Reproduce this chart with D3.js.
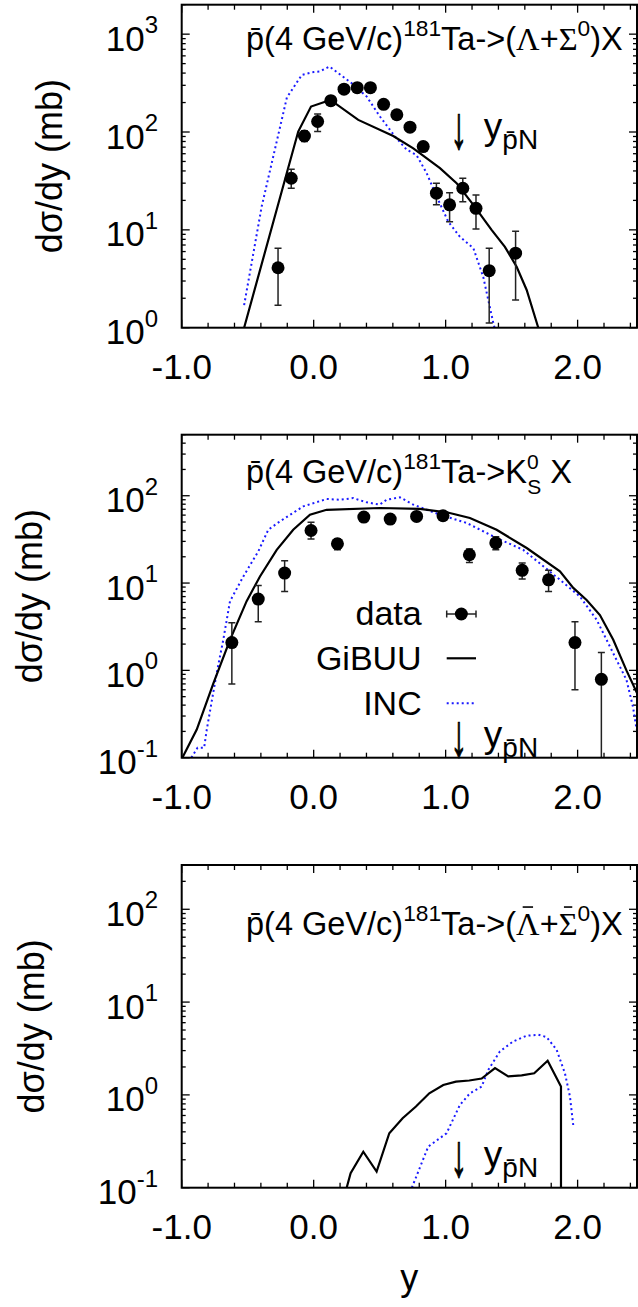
<!DOCTYPE html>
<html><head><meta charset="utf-8">
<script src="https://cdn.jsdelivr.net/npm/d3@7"></script>
<style>
html,body{margin:0;padding:0;background:#fff;}
text{font-family:"Liberation Sans", Arial, Helvetica, sans-serif; fill:#000;}
</style></head><body>
<svg id="c" width="638" height="1307"></svg>
<script>
// ---------- shared axis data ----------
const xDomain = [-1.0, 2.45];
const xMajorTicks = [-1, 0, 1, 2];
const xTickLabels = ["-1.0", "0.0", "1.0", "2.0"];
const yPN = 1.1;   // position of the y_{pbar N} arrow
const yTitle = "dσ/dy (mb)";
const xTitle = "y";

// ---------- panel 1: (Lambda + Sigma0) ----------
const lamDataY  = [-0.27,-0.17,-0.07,0.03,0.13,0.23,0.33,0.43,0.53,0.63,0.73,0.83,0.93,1.03,1.13,1.23,1.33,1.53];
const lamDataV  = [4.1,33.7,91,128,209,274,284,284,192,150,112,71,23.7,18,26.6,16.6,3.83,5.77];
const lamDataHi = [6.5,41.7,103,153,230,300,310,310,210,165,123,78,30,24,33.7,22.7,6.5,9.7];
const lamDataLo = [1.7,26.6,80,101,190,250,260,260,175,137,102,65,18,12.1,19.4,10.2,1.12,1.92];
const lamGibuuY = [-0.527,-0.117,-0.02,0.127,0.338,0.603,0.755,0.957,1.083,1.21,1.348,1.449,1.538,1.614,1.702];
const lamGibuuV = [1.0,101,182,213,133,91,68,42.7,30,18,10,6.7,4.2,2.43,1.0];
const lamIncY   = [-0.527,-0.394,-0.203,-0.09,0.0,0.044,0.12,0.288,0.402,0.502,0.616,0.705,0.78,0.856,0.932,1.02,1.108,1.21,1.285,1.361,1.375];
const lamIncV   = [1.7,17.3,225,383,410,415,467,315,230,144,90,66,58,38,21.9,12.1,8.5,6.5,3.3,1.12,0.95];

// ---------- panel 2: K0s ----------
const kDataY  = [-0.62,-0.42,-0.22,-0.02,0.18,0.38,0.58,0.78,0.98,1.18,1.38,1.58,1.78,1.98,2.18];
const kDataV  = [2.08,6.55,13,40,28.2,57,54,58,59,21.1,28.8,14,10.9,2.08,0.79];
const kDataHi = [3.5,9.4,18,49.6,32,62,59,63,64,24.5,34,17,14,3.6,1.6];
const kDataLo = [0.70,3.6,8.0,32,24,52,49,53,54,17.2,24,11.1,8.0,0.60,0.1];
const kGibuuY = [-0.995,-0.886,-0.76,-0.634,-0.508,-0.407,-0.28,-0.155,-0.028,0.098,0.502,0.805,1.008,1.184,1.386,1.614,1.866,1.967,2.068,2.169,2.27,2.37,2.45];
const kGibuuV = [0.1,0.21,0.71,2.24,6.2,11.9,24,40.8,60.7,69,72.4,70.6,64.6,55.6,40.8,25.2,13.6,8.8,6.4,4.3,2.24,1.0,0.55];
const kIncY   = [-0.927,-0.88,-0.83,-0.81,-0.735,-0.685,-0.634,-0.533,-0.42,-0.344,-0.255,-0.079,0.098,0.2,0.3,0.402,0.5,0.553,0.654,0.755,0.957,1.159,1.386,1.588,1.866,2.018,2.144,2.27,2.37,2.42,2.447];
const kIncV   = [0.1,0.13,0.13,0.21,0.93,2.24,6.2,11.9,23,40.8,51,75.5,91.8,90,94,84,79,90,96,79,60.7,48.8,32.8,24,10.9,7.0,3.8,1.57,0.78,0.38,0.21];

// ---------- panel 3: (anti-Lambda + anti-Sigma0) ----------
const alamGibuuY = [0.25,0.28,0.376,0.477,0.573,0.674,0.775,0.876,0.982,1.078,1.179,1.273,1.374,1.474,1.576,1.671,1.773,1.874,1.874];
const alamGibuuV = [0.1,0.143,0.244,0.149,0.386,0.56,0.75,1.04,1.28,1.39,1.43,1.5,1.94,1.58,1.62,1.71,2.33,1.23,0.1];
const alamIncY   = [0.744,0.868,1.007,1.108,1.184,1.273,1.323,1.411,1.512,1.614,1.702,1.765,1.841,1.904,1.942,1.967];
const alamIncV   = [0.1,0.277,0.386,0.78,1.04,1.23,1.86,2.94,3.77,4.34,4.45,4.2,3.06,1.71,0.96,0.47];

// legend
const legendLabels = ["data", "GiBUU", "INC"];

// ---------- drawing ----------
const svg = d3.select("#c");
svg.append("rect").attr("width", 638).attr("height", 1307).attr("fill", "#fff");
const x = d3.scaleLinear().domain(xDomain).range([181.7, 637]);
const INC_COLOR = "#1a1aff";
const SERIF = "'Liberation Serif','Times New Roman',serif";

function zip(a, b) { return a.map((v, i) => [v, b[i]]); }

function richText(parent, x0, y0, size, segs, anchor) {
  const t = parent.append("text").attr("x", x0).attr("y", y0).attr("font-size", size);
  if (anchor) t.attr("text-anchor", anchor);
  let cur = 0, offset = 0;
  const small = size * 0.7;
  const bars = [];
  segs.forEach(s => {
    const seg = typeof s === "string" ? { t: s } : s;
    const shift = seg.sup ? -size * 0.42 : seg.sub ? size * (seg.subShift || 0.28) : 0;
    const ts = t.append("tspan").text(seg.t).attr("dy", shift - cur);
    if (seg.dx) ts.attr("dx", seg.dx * small);
    cur = shift;
    if (seg.sup || seg.sub) ts.attr("font-size", seg.size ? seg.size : small);
    if (seg.serif) ts.attr("font-family", SERIF);
    if (seg.bar) bars.push(offset);
    offset += seg.t.length;
  });
  bars.forEach(idx => {
    const ext = t.node().getExtentOfChar(idx);
    const cx = ext.x + ext.width / 2;
    const by = y0 - size * 0.86;
    parent.append("line").attr("x1", cx - ext.width * 0.22).attr("x2", cx + ext.width * 0.22)
      .attr("y1", by).attr("y2", by).attr("stroke", "#000").attr("stroke-width", 1.6);
  });
  return t;
}

function panel(cfg) {
  const y = d3.scaleLog().domain(cfg.yDomain).range([cfg.bottom, cfg.top]);
  const [L, R] = x.range();
  const T = cfg.top, B = cfg.bottom;
  const g = svg.append("g");
  const clipId = "clip" + cfg.id;
  svg.append("clipPath").attr("id", clipId).append("rect")
    .attr("x", L).attr("y", T).attr("width", R - L).attr("height", B - T);

  // x ticks (every 0.2, major at integers)
  const xt = d3.range(0, 18).map(i => -1 + 0.2 * i);
  xt.forEach(v => {
    const major = Math.abs(v - Math.round(v)) < 1e-6;
    const len = major ? 8 : 5;
    const px = x(v);
    g.append("line").attr("x1", px).attr("x2", px).attr("y1", B).attr("y2", B - len).attr("stroke", "#000").attr("stroke-width", 1.3);
    g.append("line").attr("x1", px).attr("x2", px).attr("y1", T).attr("y2", T + len).attr("stroke", "#000").attr("stroke-width", 1.3);
  });
  // y ticks (log)
  y.ticks().forEach(v => {
    const lg = Math.log10(v);
    const major = Math.abs(lg - Math.round(lg)) < 1e-6;
    const len = major ? 8 : 4;
    const py = y(v);
    g.append("line").attr("x1", L).attr("x2", L + len).attr("y1", py).attr("y2", py).attr("stroke", "#000").attr("stroke-width", 1.3);
    g.append("line").attr("x1", R).attr("x2", R - len).attr("y1", py).attr("y2", py).attr("stroke", "#000").attr("stroke-width", 1.3);
  });

  // x tick labels
  xMajorTicks.forEach((v, i) => {
    g.append("text").attr("x", x(v)).attr("y", B + 51).attr("text-anchor", "middle")
      .attr("font-size", 35).text(xTickLabels[i]);
  });
  // y tick labels
  const e0 = Math.ceil(Math.log10(cfg.yDomain[0]) - 1e-9), e1 = Math.floor(Math.log10(cfg.yDomain[1]) + 1e-9);
  d3.range(e0, e1 + 1).forEach(e => {
    const py = y(Math.pow(10, e));
    const t = g.append("text").attr("x", 158).attr("y", py + 16.5).attr("text-anchor", "end").attr("font-size", 35);
    t.append("tspan").text("10");
    t.append("tspan").text(String(e)).attr("dy", -17.5).attr("font-size", 24);
  });
  // y title
  g.append("text").attr("transform", `translate(${cfg.yTitleX},${(T + B) / 2}) rotate(-90)`)
    .attr("text-anchor", "middle").attr("font-size", 36).text(yTitle);

  // curves
  const line = d3.line().x(d => x(d[0])).y(d => y(d[1]));
  const cg = g.append("g").attr("clip-path", `url(#${clipId})`);
  cg.append("path").attr("d", line(zip(cfg.incY, cfg.incV))).attr("fill", "none")
    .attr("stroke", INC_COLOR).attr("stroke-width", 2).attr("stroke-dasharray", "2,3");
  cg.append("path").attr("d", line(zip(cfg.gibuuY, cfg.gibuuV))).attr("fill", "none")
    .attr("stroke", "#000").attr("stroke-width", 2.2).attr("stroke-linejoin", "miter");

  // data
  if (cfg.dataY) {
    cfg.dataY.forEach((v, i) => {
      const px = x(v);
      const yHi = y(cfg.dataHi[i]), yLo = y(Math.max(cfg.dataLo[i], cfg.yDomain[0]));
      cg.append("line").attr("x1", px).attr("x2", px).attr("y1", yHi).attr("y2", yLo).attr("stroke", "#222").attr("stroke-width", 1.5);
      cg.append("line").attr("x1", px - 3.5).attr("x2", px + 3.5).attr("y1", yHi).attr("y2", yHi).attr("stroke", "#222").attr("stroke-width", 1.5);
      cg.append("line").attr("x1", px - 3.5).attr("x2", px + 3.5).attr("y1", yLo).attr("y2", yLo).attr("stroke", "#222").attr("stroke-width", 1.5);
      cg.append("circle").attr("cx", px).attr("cy", y(cfg.dataV[i])).attr("r", 6.5).attr("fill", "#000");
    });
  }

  // frame
  g.append("rect").attr("x", L).attr("y", T).attr("width", R - L).attr("height", B - T)
    .attr("fill", "none").attr("stroke", "#000").attr("stroke-width", 2);

  // title
  richText(g, 246, cfg.titleBase, 32.5, cfg.titleSegs);

  // y_pN arrow
  const ax = x(yPN);
  g.append("text")
    .attr("transform", `translate(${ax},${cfg.arrowBase + 1}) scale(0.55,1)`)
    .attr("text-anchor", "middle").attr("font-family", "'DejaVu Sans',sans-serif")
    .attr("font-size", 60).attr("fill", "#000").attr("stroke", "#000").attr("stroke-width", 1.2)
    .text("↓");
  richText(g, ax + 25, cfg.arrowBase - 8, 37, ["y", { t: "p̄N", sub: true, size: 28 }]);

  return { y, g };
}

const pbarHead = ["p̄(4 GeV/c)", { t: "181", sup: true }, "Ta->"];

panel({
  id: 1, top: 4.7, bottom: 327.7, yDomain: [1, 2000], yTitleX: 62,
  dataY: lamDataY, dataV: lamDataV, dataHi: lamDataHi, dataLo: lamDataLo,
  gibuuY: lamGibuuY, gibuuV: lamGibuuV, incY: lamIncY, incV: lamIncV,
  titleBase: 50, arrowBase: 147,
  titleSegs: [...pbarHead, "(", { t: "Λ", serif: true }, "+", { t: "Σ", serif: true }, { t: "0", sup: true }, ")X"]
});

const p2 = panel({
  id: 2, top: 434.7, bottom: 757.7, yDomain: [0.1, 500], yTitleX: 42,
  dataY: kDataY, dataV: kDataV, dataHi: kDataHi, dataLo: kDataLo,
  gibuuY: kGibuuY, gibuuV: kGibuuV, incY: kIncY, incV: kIncV,
  titleBase: 483, arrowBase: 755,
  titleSegs: [...pbarHead, "K", { t: "0", sup: true, size: 21 }, { t: "S", sub: true, dx: -0.5, subShift: 0.34, size: 21 }, " X"]
});

panel({
  id: 3, top: 865, bottom: 1187.7, yDomain: [0.1, 300], yTitleX: 44,
  gibuuY: alamGibuuY, gibuuV: alamGibuuV, incY: alamIncY, incV: alamIncV,
  titleBase: 935, arrowBase: 1175,
  titleSegs: [...pbarHead, "(", { t: "Λ", serif: true, bar: true }, "+", { t: "Σ", serif: true, bar: true }, { t: "0", sup: true }, ")X"]
});

// x title
svg.append("text").attr("x", (x.range()[0] + x.range()[1]) / 2).attr("y", 1290)
  .attr("text-anchor", "middle").attr("font-size", 36).text(xTitle);

// legend (panel 2)
const lg = p2.g.append("g");
const legY = [625, 670, 715];
const lx0 = 446.7, lx1 = 476;
legendLabels.forEach((lab, i) => {
  lg.append("text").attr("x", 421.7).attr("y", legY[i]).attr("text-anchor", "end").attr("font-size", 34).text(lab);
});
const sy0 = legY[0] - 11;
lg.append("line").attr("x1", lx0).attr("x2", lx1).attr("y1", sy0).attr("y2", sy0).attr("stroke", "#222").attr("stroke-width", 1.5);
lg.append("line").attr("x1", lx0).attr("x2", lx0).attr("y1", sy0 - 3.5).attr("y2", sy0 + 3.5).attr("stroke", "#222").attr("stroke-width", 1.5);
lg.append("line").attr("x1", lx1).attr("x2", lx1).attr("y1", sy0 - 3.5).attr("y2", sy0 + 3.5).attr("stroke", "#222").attr("stroke-width", 1.5);
lg.append("circle").attr("cx", (lx0 + lx1) / 2).attr("cy", sy0).attr("r", 6.5).attr("fill", "#000");
lg.append("line").attr("x1", lx0).attr("x2", lx1).attr("y1", legY[1] - 11.7).attr("y2", legY[1] - 11.7).attr("stroke", "#000").attr("stroke-width", 2.2);
lg.append("line").attr("x1", lx0).attr("x2", lx1).attr("y1", legY[2] - 11.7).attr("y2", legY[2] - 11.7).attr("stroke", INC_COLOR).attr("stroke-width", 2).attr("stroke-dasharray", "2,3");
</script>
</body></html>
